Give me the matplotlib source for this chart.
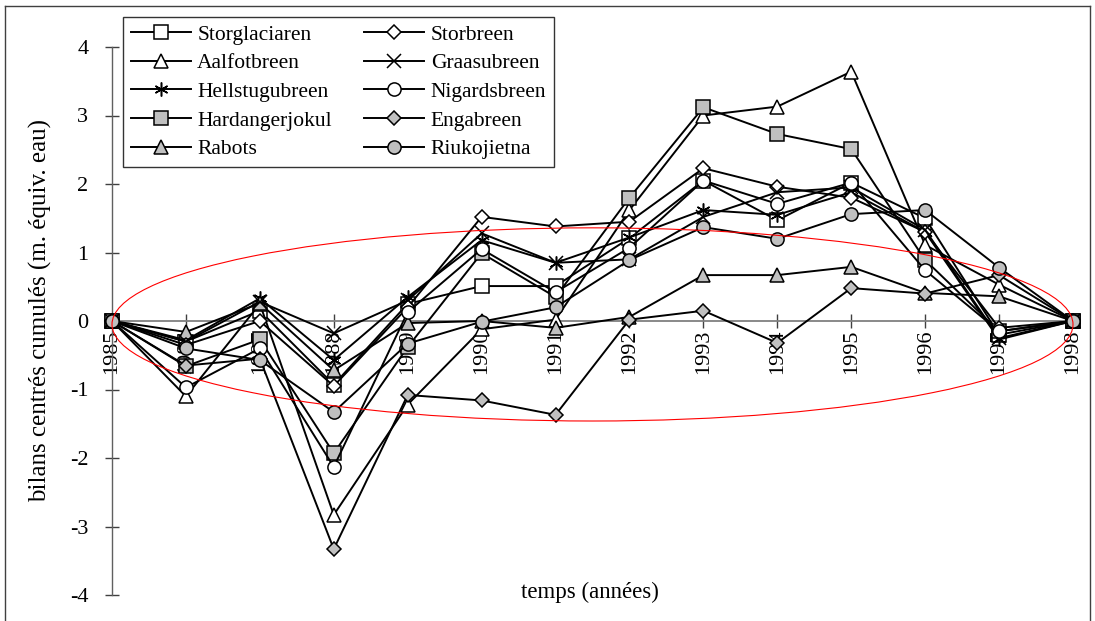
import numpy as np
import matplotlib
matplotlib.use("Agg")
import matplotlib.pyplot as plt
from matplotlib.patches import Ellipse
from matplotlib.lines import Line2D

# =========================
# Donnees (bilans centres cumules, m eq. eau)
# =========================
years = list(range(1985, 1999))

storglaciaren  = [0, -0.30, 0.15, -0.93, 0.25, 0.51, 0.51, 1.21, 2.05, 1.47, 2.02, 1.50, -0.20, 0]
storbreen      = [0, -0.35, 0.00, -0.95, 0.20, 1.52, 1.38, 1.45, 2.23, 1.96, 1.80, 1.30, -0.10, 0]
aalfotbreen    = [0, -1.10, 0.25, -2.83, -1.22, -0.12, 0.02, 1.62, 3.00, 3.13, 3.64, 1.11, 0.53, 0]
graasubreen    = [0, -0.30, 0.28, -0.18, 0.30, 1.28, 0.85, 0.90, 1.52, 1.88, 1.95, 1.33, -0.25, 0]
hellstugubreen = [0, -0.28, 0.33, -0.57, 0.35, 1.18, 0.85, 1.22, 1.62, 1.55, 1.88, 1.30, -0.27, 0]
nigardsbreen   = [0, -0.97, -0.40, -2.13, 0.13, 1.05, 0.42, 1.07, 2.05, 1.71, 2.02, 0.74, -0.15, 0]
hardangerjokul = [0, -0.66, -0.27, -1.93, -0.38, 0.99, 0.35, 1.80, 3.12, 2.73, 2.51, 0.89, -0.15, 0]
engabreen      = [0, -0.65, -0.55, -3.33, -1.08, -1.16, -1.37, 0.02, 0.15, -0.32, 0.48, 0.40, 0.67, 0]
rabots         = [0, -0.16, 0.26, -0.72, -0.03, 0.00, -0.10, 0.06, 0.67, 0.67, 0.79, 0.41, 0.36, 0]
riukojietna    = [0, -0.40, -0.57, -1.33, -0.33, -0.01, 0.20, 0.89, 1.37, 1.20, 1.56, 1.62, 0.78, 0]

GRAY = "#c0c0c0"
STAR = (6, 2, 0)

# ordre de la legende : colonne 1 puis colonne 2
series = [
    ("Storglaciaren", storglaciaren, "s", "white"),
    ("Aalfotbreen", aalfotbreen, "^", "white"),
    ("Hellstugubreen", hellstugubreen, STAR, "white"),
    ("Hardangerjokul", hardangerjokul, "s", GRAY),
    ("Rabots", rabots, "^", GRAY),
    ("Storbreen", storbreen, "D", "white"),
    ("Graasubreen", graasubreen, "x", "white"),
    ("Nigardsbreen", nigardsbreen, "o", "white"),
    ("Engabreen", engabreen, "D", GRAY),
    ("Riukojietna", riukojietna, "o", GRAY),
]

plt.rcParams["font.family"] = ["Liberation Serif", "DejaVu Serif"]
plt.rcParams["axes.unicode_minus"] = False

fig = plt.figure(figsize=(10.95, 6.21), dpi=100)
ax = fig.add_axes([112 / 1095, 1 - 595 / 621, (1073 - 112) / 1095, (595 - 47) / 621])

handles = []
for name, vals, mk, fc in series:
    size = 9.5
    if mk == "D":
        size = 7.5
    if mk == "x" or mk == STAR:
        size = 10
    ln, = ax.plot(years, vals, color="black", lw=1.4, marker=mk, ms=size,
                  mfc=fc, mec="black", mew=1.1, clip_on=False, zorder=3)
    handles.append(ln)

# ellipse rouge
ell = Ellipse((1991.5, -0.05), 13.0, 2.82, fill=False, edgecolor="red",
              lw=0.8, clip_on=False, zorder=4)
ax.add_patch(ell)

ax.set_xlim(1985, 1998)
ax.set_ylim(-4, 4)

for s in ["top", "right"]:
    ax.spines[s].set_visible(False)
ax.spines["bottom"].set_position(("data", 0))
ax.spines["bottom"].set_color("#808080")
ax.spines["bottom"].set_linewidth(1.3)
ax.spines["left"].set_color("#606060")
ax.spines["left"].set_linewidth(1.0)

ax.set_xticks(years)
ax.set_xticklabels([str(y) for y in years], rotation=90, fontsize=16)
ax.set_yticks(range(-4, 5))
ax.set_yticklabels([str(v) for v in range(-4, 5)], fontsize=16)
ax.tick_params(axis="x", direction="inout", length=10, width=1.0, color="#404040", pad=1)
ax.tick_params(axis="y", direction="inout", length=10, width=1.0, color="#404040", pad=12)

ax.set_ylabel("bilans centrés cumulés (m. équiv. eau)", fontsize=18)
ax.yaxis.set_label_coords(-0.062, 0.52)
fig.text(590 / 1095, 1 - 592 / 621, "temps (années)", fontsize=16.5, ha="center", va="center")

leg = ax.legend(handles, [s[0] for s in series],
                ncol=2, loc="upper left", bbox_to_anchor=(11 / 961, 1 + 30 / 548),
                frameon=True, fancybox=False, edgecolor="black", fontsize=15.5,
                handlelength=2.8, handletextpad=0.3, columnspacing=1.5,
                labelspacing=0.4, borderpad=0.35, borderaxespad=0)
leg.get_frame().set_linewidth(1.0)
leg.set_zorder(5)

# cadre de la figure
fig.add_artist(Line2D([5 / 1095, 5 / 1095], [0, 1 - 6 / 621], color="#404040", lw=1.0))
fig.add_artist(Line2D([5 / 1095, 1090 / 1095], [1 - 6 / 621, 1 - 6 / 621], color="#404040", lw=1.0))
fig.add_artist(Line2D([1090 / 1095, 1090 / 1095], [0, 1 - 6 / 621], color="#404040", lw=1.0))

fig.savefig("out.png", dpi=100)
